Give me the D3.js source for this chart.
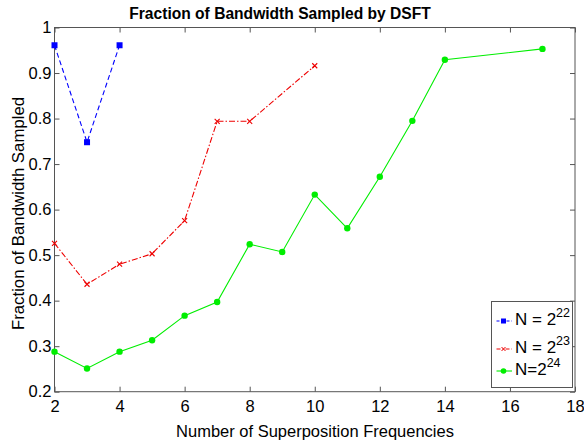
<!DOCTYPE html>
<html><head><meta charset="utf-8">
<script src="https://cdn.jsdelivr.net/npm/d3@7"></script>
<style>body{margin:0;background:#fff;} text{font-family:"Liberation Sans",Arial,sans-serif;}</style>
</head><body>
<svg id="c" width="584" height="447"></svg>
<script>
const xs22 = [2, 3, 4];
const ys22 = [0.961, 0.748, 0.961];
const xs23 = [2, 3, 4, 5, 6, 7, 8, 10];
const ys23 = [0.526, 0.436, 0.480, 0.503, 0.576, 0.794, 0.794, 0.916];
const xs24 = [2, 3, 4, 5, 6, 7, 8, 9, 10, 11, 12, 13, 14, 17];
const ys24 = [0.288, 0.251, 0.288, 0.313, 0.367, 0.397, 0.524, 0.507, 0.633, 0.559, 0.672, 0.795, 0.929, 0.953];
const xTicks = [2, 4, 6, 8, 10, 12, 14, 16, 18];
const yTicks = [0.2, 0.3, 0.4, 0.5, 0.6, 0.7, 0.8, 0.9, 1];
const yTickLabels = ["0.2","0.3","0.4","0.5","0.6","0.7","0.8","0.9","1"];

const svg = d3.select("#c");
const L = 54.5, R = 575, T = 27.5, B = 391.7;
const x = d3.scaleLinear().domain([2, 18]).range([L, R]);
const y = d3.scaleLinear().domain([0.2, 1]).range([B, T]);
const axisCol = "#555";

// box
svg.append("rect").attr("x", L).attr("y", T).attr("width", R - L).attr("height", B - T)
  .attr("fill", "none").attr("stroke", axisCol).attr("stroke-width", 1);

// axes with inward ticks
const ax = svg.append("g").attr("transform", `translate(0,${B})`)
  .call(d3.axisBottom(x).tickValues(xTicks).tickSizeInner(-5).tickSizeOuter(0).tickPadding(9));
const axT = svg.append("g").attr("transform", `translate(0,${T})`)
  .call(d3.axisTop(x).tickValues(xTicks).tickSizeInner(-5).tickSizeOuter(0).tickFormat(""));
const ay = svg.append("g").attr("transform", `translate(${L},0)`)
  .call(d3.axisLeft(y).tickValues(yTicks).tickSizeInner(-5).tickSizeOuter(0).tickPadding(3)
    .tickFormat((d, i) => yTickLabels[i]));
const ayR = svg.append("g").attr("transform", `translate(${R},0)`)
  .call(d3.axisRight(y).tickValues(yTicks).tickSizeInner(-5).tickSizeOuter(0).tickFormat(""));
[ax, axT, ay, ayR].forEach(g => {
  g.select(".domain").remove();
  g.selectAll("line").attr("stroke", axisCol);
  g.selectAll("text").attr("font-size", 16.5).attr("fill", "#000")
    .style("font-family", '"Liberation Sans",Arial,sans-serif');
});

// series
const line = d3.line().x(d => x(d[0])).y(d => y(d[1]));
function series(xsArr, ysArr, color, dash) {
  const pts = xsArr.map((v, i) => [v, ysArr[i]]);
  svg.append("path").datum(pts).attr("d", line).attr("fill", "none")
    .attr("stroke", color).attr("stroke-width", 1.1).attr("stroke-dasharray", dash);
  return pts;
}
const p22 = series(xs22, ys22, "#0000ff", "5,3");
const p23 = series(xs23, ys23, "#ee0000", "6,2,1.5,2");
const p24 = series(xs24, ys24, "#00ee00", null);

svg.selectAll(".m22").data(p22).enter().append("rect")
  .attr("x", d => x(d[0]) - 3).attr("y", d => y(d[1]) - 3).attr("width", 6).attr("height", 6).attr("fill", "#0000ff");
svg.selectAll(".m23").data(p23).enter().append("path")
  .attr("d", d => { const cx = x(d[0]), cy = y(d[1]), s = 2.5; return `M${cx-s},${cy-s}L${cx+s},${cy+s}M${cx-s},${cy+s}L${cx+s},${cy-s}`; })
  .attr("stroke", "#ee0000").attr("stroke-width", 1.1);
svg.selectAll(".m24").data(p24).enter().append("circle")
  .attr("cx", d => x(d[0])).attr("cy", d => y(d[1])).attr("r", 3.2).attr("fill", "#00ee00");

// title and labels
svg.append("text").attr("x", 280).attr("y", 18.5).attr("text-anchor", "middle")
  .attr("font-size", 15.6).attr("font-weight", "bold").text("Fraction of Bandwidth Sampled by DSFT");
svg.append("text").attr("x", 315).attr("y", 437).attr("text-anchor", "middle")
  .attr("font-size", 16.5).text("Number of Superposition Frequencies");
svg.append("text").attr("transform", `translate(24,213.5) rotate(-90)`).attr("text-anchor", "middle")
  .attr("font-size", 16.8).text("Fraction of Bandwidth Sampled");

// legend
const lg = svg.append("g");
lg.append("rect").attr("x", 491.5).attr("y", 301.5).attr("width", 81).attr("height", 86)
  .attr("fill", "#fff").attr("stroke", axisCol).attr("stroke-width", 1);
const legItems = [
  { c: "#0000ff", dash: "3,2", m: "sq", base: "N = 2", sup: "22", yy: 321, by: 325 },
  { c: "#ee0000", dash: "4,2,1,2", m: "x", base: "N = 2", sup: "23", yy: 349, by: 353 },
  { c: "#00ee00", dash: null, m: "o", base: "N=2", sup: "24", yy: 371, by: 375 }
];
legItems.forEach(it => {
  lg.append("line").attr("x1", 496.5).attr("x2", 512).attr("y1", it.yy).attr("y2", it.yy)
    .attr("stroke", it.c).attr("stroke-width", 1.1).attr("stroke-dasharray", it.dash);
  const cx = 503.5;
  if (it.m === "sq") lg.append("rect").attr("x", cx - 2.5).attr("y", it.yy - 2.5).attr("width", 5).attr("height", 5).attr("fill", it.c);
  else if (it.m === "x") lg.append("path").attr("d", `M${cx-2},${it.yy-2}L${cx+2},${it.yy+2}M${cx-2},${it.yy+2}L${cx+2},${it.yy-2}`).attr("stroke", it.c);
  else lg.append("circle").attr("cx", cx).attr("cy", it.yy).attr("r", 2.8).attr("fill", it.c);
  const t = lg.append("text").attr("x", 515).attr("y", it.by).attr("font-size", 17);
  t.append("tspan").text(it.base);
  t.append("tspan").attr("dy", -8).attr("font-size", 12.5).text(it.sup);
});
</script>
</body></html>
